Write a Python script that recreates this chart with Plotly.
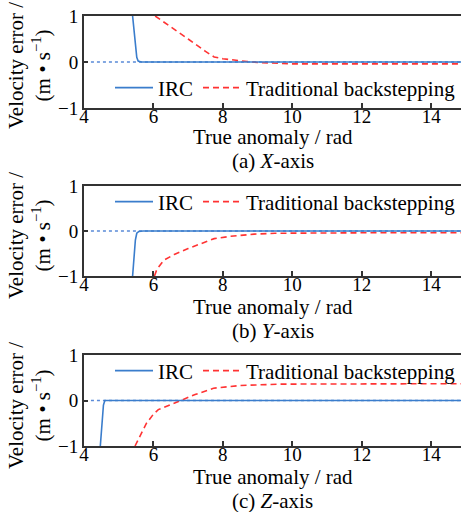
import plotly.graph_objects as go

W, H = 461, 512

# ---------------- data ----------------
x_zero = [4.2, 15.0]
y_zero = [0.0, 0.0]

irc_a_x = [5.40, 5.47, 5.52, 5.56, 5.65, 15.0]
irc_a_y = [1.0, 0.45, 0.10, 0.02, 0.0, 0.0]
tb_a_x = [6.05, 6.5, 7.0, 7.5, 7.75, 8.0, 8.3, 8.7, 9.0, 9.5, 10.0, 12.0, 15.0]
tb_a_y = [1.0, 0.77, 0.50, 0.23, 0.11, 0.07, 0.04, 0.01, -0.01, -0.03, -0.04, -0.04, -0.04]

irc_b_x = [5.40, 5.44, 5.48, 5.52, 5.58, 5.70, 15.0]
irc_b_y = [-1.0, -0.6, -0.2, -0.05, -0.01, 0.0, 0.0]
tb_b_x = [6.03, 6.1, 6.3, 6.6, 7.0, 7.4, 7.75, 8.2, 8.9, 9.5, 10.8, 12.0, 15.0]
tb_b_y = [-1.0, -0.85, -0.65, -0.52, -0.39, -0.27, -0.17, -0.12, -0.07, -0.05, -0.04, -0.04, -0.04]

irc_c_x = [4.47, 4.52, 4.56, 4.60, 4.70, 15.0]
irc_c_y = [-1.0, -0.5, -0.1, 0.0, 0.0, 0.0]
tb_c_x = [5.47, 5.6, 5.8, 6.0, 6.14, 6.4, 6.77, 7.2, 7.73, 8.5, 9.65, 12.0, 15.0]
tb_c_y = [-1.0, -0.8, -0.5, -0.3, -0.2, -0.12, 0.0, 0.13, 0.27, 0.33, 0.36, 0.37, 0.37]

x_ticks = [4, 6, 8, 10, 12, 14]
y_ticks = [-1, 0, 1]
y_tick_text = ["\u22121", "0", "1"]

panels = [
    dict(irc=(irc_a_x, irc_a_y), tb=(tb_a_x, tb_a_y), cap="(a) <i>X</i>-axis"),
    dict(irc=(irc_b_x, irc_b_y), tb=(tb_b_x, tb_b_y), cap="(b) <i>Y</i>-axis"),
    dict(irc=(irc_c_x, irc_c_y), tb=(tb_c_x, tb_c_y), cap="(c) <i>Z</i>-axis"),
]

# ---------------- layout geometry (pixels) ----------------
plot_left = 84
panel_top = [16, 186, 355]
panel_bot = [108, 276, 446]
legend_y = [88, 202, 371]
offsets = [0, 170, 340]

FONT = "Liberation Serif, Times New Roman, Times, serif"
BLUE = "#3a7dcc"
RED = "#ff3333"
AX = "#333333"

def py(p):
    return 1 - p / H

fig = go.Figure()
layout = dict(
    width=W, height=H,
    margin=dict(l=0, r=0, t=0, b=0, autoexpand=False),
    paper_bgcolor="white", plot_bgcolor="white",
    font=dict(family=FONT, size=18, color="black"),
    annotations=[],
)

xdom = [plot_left / W, 1.0]
xc = (plot_left + W) / 2 / W

for i, p in enumerate(panels):
    n = "" if i == 0 else str(i + 1)
    xa, ya = "x" + n, "y" + n
    lg = "legend" + n
    fig.add_trace(go.Scatter(x=x_zero, y=y_zero, mode="lines", xaxis=xa, yaxis=ya,
                             line=dict(color="#5a8ad8", width=1.5, dash="dot"),
                             showlegend=False, hoverinfo="skip"))
    fig.add_trace(go.Scatter(x=p["tb"][0], y=p["tb"][1], mode="lines", xaxis=xa, yaxis=ya,
                             name="Traditional backstepping", legend=lg, legendrank=2,
                             line=dict(color=RED, width=1.6, dash="6px,4px")))
    fig.add_trace(go.Scatter(x=p["irc"][0], y=p["irc"][1], mode="lines", xaxis=xa, yaxis=ya,
                             name="IRC", legend=lg, legendrank=1,
                             line=dict(color=BLUE, width=1.6)))

    ydom = [py(panel_bot[i]), py(panel_top[i])]
    layout["xaxis" + n] = dict(
        domain=xdom, anchor=ya, range=[4, 14.86],
        tickvals=x_ticks, ticks="inside", ticklen=5, tickwidth=1.5, tickcolor=AX,
        ticklabelstandoff=-10,
        showline=True, linecolor=AX, linewidth=2, mirror=True,
        showgrid=False, zeroline=False,
        tickfont=dict(family=FONT, size=19, color="black"),
    )
    layout["yaxis" + n] = dict(
        domain=ydom, anchor=xa, range=[-1, 1],
        tickvals=y_ticks, ticktext=y_tick_text, ticks="inside", ticklen=4,
        tickwidth=1.5, tickcolor=AX,
        showline=True, linecolor=AX, linewidth=2, mirror=False,
        showgrid=False, zeroline=False,
        tickfont=dict(family=FONT, size=19, color="black"),
    )
    layout[lg] = dict(
        orientation="h", x=110 / W, xanchor="left", y=py(legend_y[i]), yanchor="middle",
        bgcolor="rgba(255,255,255,0)", borderwidth=0, itemwidth=38,
        font=dict(family=FONT, size=21, color="black"), traceorder="normal",
        tracegroupgap=0,
    )
    o = offsets[i]
    layout["annotations"] += [
        dict(text="True anomaly / rad", xref="paper", yref="paper", x=xc, y=py(o + 137),
             xanchor="center", yanchor="middle", showarrow=False,
             font=dict(family=FONT, size=21, color="black")),
        dict(text=p["cap"], xref="paper", yref="paper", x=xc, y=py(o + 161),
             xanchor="center", yanchor="middle", showarrow=False,
             font=dict(family=FONT, size=21, color="black")),
        dict(text="Velocity error /<br>(m \u2022 s<sup>\u22121</sup>)", xref="paper", yref="paper",
             x=29 / W, y=py(o + 66), xanchor="center", yanchor="middle", textangle=-90,
             showarrow=False, font=dict(family=FONT, size=21, color="black")),
    ]

fig.update_layout(**layout)
fig.write_html("out.html")
